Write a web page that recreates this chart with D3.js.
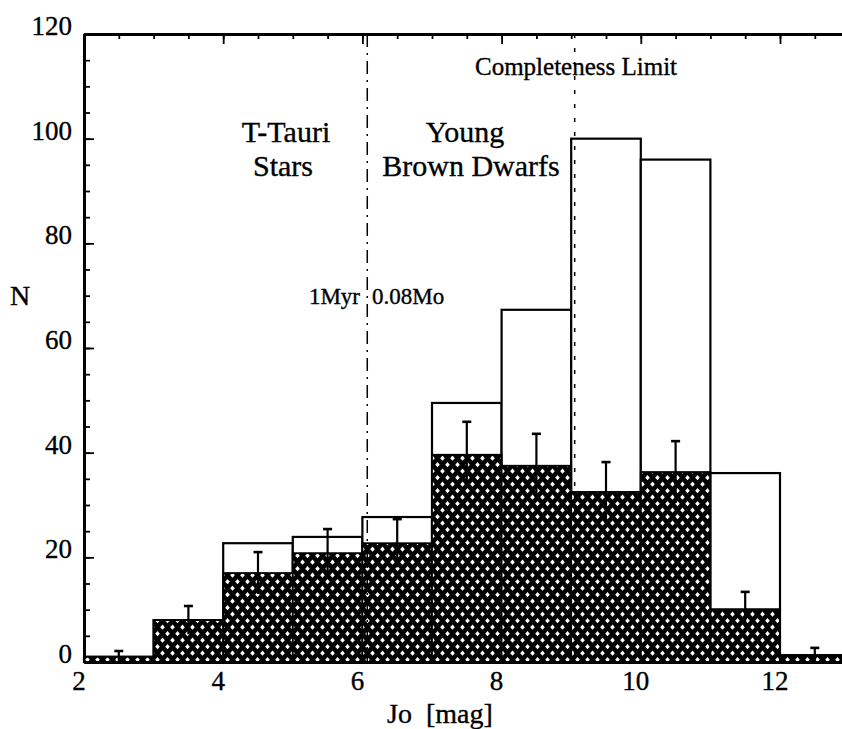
<!DOCTYPE html>
<html>
<head>
<meta charset="utf-8">
<script src="https://cdnjs.cloudflare.com/ajax/libs/d3/7.8.5/d3.min.js"></script>
<style>
  body { margin: 0; background: #fff; }
  svg { display: block; }
  text { white-space: pre; font-family: "Liberation Serif", "Times New Roman", serif; fill: #000; stroke: #000; stroke-width: 0.35px; }
</style>
</head>
<body>
<svg id="chart" width="842" height="729"></svg>
<script>
// left edge of every 1 mag bin
const binStart = [2, 3, 4, 5, 6, 7, 8, 9, 10, 11, 12];
// all sources per bin (open bars)
const totalCounts = [1, 8, 22.7, 23.9, 27.7, 49.5, 67.3, 100, 96, 36.1, 1.3];
// corrected counts (hatched bars)
const hatchedCounts = [1, 8, 17, 20.8, 22.7, 39.6, 37.5, 32.5, 36.3, 10.1, 1.3];
// half length of the error bars
const errors = [1.1, 2.7, 4, 4.6, 4.6, 6.3, 6.1, 5.7, 5.9, 3.3, 1.4];
const xTickLabels = [2, 4, 6, 8, 10, 12];
const yTickLabels = [0, 20, 40, 60, 80, 100, 120];
// vertical marker lines
const massLimit = 6.07;      // 1Myr 0.08Mo
const completeness = 9.05;

const svg = d3.select("#chart");

const x = d3.scaleLinear().domain([2, 13]).range([84, 849.6]);
const y = d3.scaleLinear().domain([0, 120]).range([662, 34]);

// cross hatch: black with small white diamonds
const pat = svg.append("defs").append("pattern")
  .attr("id", "hatch")
  .attr("patternUnits", "userSpaceOnUse")
  .attr("width", 10)
  .attr("height", 13);
pat.append("rect").attr("width", 10).attr("height", 13).attr("fill", "#000");
[[2.5, 3.2], [7.5, 9.7]].forEach(c => {
  pat.append("path")
    .attr("d", `M${c[0]-2.3},${c[1]} L${c[0]},${c[1]-2.6} L${c[0]+2.3},${c[1]} L${c[0]},${c[1]+2.6} Z`)
    .attr("fill", "#fff");
});

// axis ticks (inward)
const xMinor = d3.range(2, 13.01, 0.5);
const yMinor = d3.range(0, 120.1, 5);

function styleAxis(g) {
  g.selectAll("text").remove();
  g.select(".domain").attr("stroke-width", 2.8);
  g.selectAll(".tick line").attr("stroke-width", 1.8);
}

svg.append("g").attr("transform", "translate(0,34)")
  .call(d3.axisTop(x).tickValues(xMinor).tickSize(-5).tickSizeOuter(0)).call(styleAxis);
svg.append("g").attr("transform", "translate(0,34)")
  .call(d3.axisTop(x).tickValues(xTickLabels).tickSize(-10).tickSizeOuter(0)).call(styleAxis);
svg.append("g").attr("transform", "translate(0,662)")
  .call(d3.axisBottom(x).tickValues(xMinor).tickSize(-5).tickSizeOuter(0)).call(styleAxis);
svg.append("g").attr("transform", "translate(84,0)")
  .call(d3.axisLeft(y).tickValues(yMinor).tickSize(-6).tickSizeOuter(0)).call(styleAxis);
svg.append("g").attr("transform", "translate(84,0)")
  .call(d3.axisLeft(y).tickValues(yTickLabels).tickSize(-10).tickSizeOuter(0)).call(styleAxis);

// open bars
svg.append("g").selectAll("rect")
  .data(binStart)
  .join("rect")
  .attr("x", d => x(d))
  .attr("width", d => x(d + 1) - x(d))
  .attr("y", (d, i) => y(totalCounts[i]))
  .attr("height", (d, i) => y(0) - y(totalCounts[i]))
  .attr("fill", "#fff")
  .attr("stroke", "#000")
  .attr("stroke-width", 2.2);

// hatched bars
svg.append("g").selectAll("rect")
  .data(binStart)
  .join("rect")
  .attr("x", d => x(d))
  .attr("width", d => x(d + 1) - x(d))
  .attr("y", (d, i) => y(hatchedCounts[i]))
  .attr("height", (d, i) => y(0) - y(hatchedCounts[i]))
  .attr("fill", "url(#hatch)")
  .attr("stroke", "#000")
  .attr("stroke-width", 1.8);

// error bars
const err = svg.append("g").selectAll("g")
  .data(binStart)
  .join("g");
err.append("line")
  .attr("x1", d => x(d + 0.5))
  .attr("x2", d => x(d + 0.5))
  .attr("y1", (d, i) => y(Math.max(0, hatchedCounts[i] - errors[i])))
  .attr("y2", (d, i) => y(hatchedCounts[i] + errors[i]))
  .attr("stroke", "#000")
  .attr("stroke-width", 2.2);
err.append("line")
  .attr("x1", d => x(d + 0.5) - 4.5)
  .attr("x2", d => x(d + 0.5) + 4.5)
  .attr("y1", (d, i) => y(hatchedCounts[i] + errors[i]))
  .attr("y2", (d, i) => y(hatchedCounts[i] + errors[i]))
  .attr("stroke", "#000")
  .attr("stroke-width", 2.6);

// marker lines
svg.append("line")
  .attr("x1", x(massLimit)).attr("x2", x(massLimit))
  .attr("y1", y(120)).attr("y2", y(0))
  .attr("stroke", "#000")
  .attr("stroke-width", 1.5)
  .attr("stroke-dasharray", "13,6,2,6");
svg.append("line")
  .attr("x1", x(completeness)).attr("x2", x(completeness))
  .attr("y1", y(120)).attr("y2", y(0))
  .attr("stroke", "#000")
  .attr("stroke-width", 1.5)
  .attr("stroke-dasharray", "4,10");

// tick labels
svg.append("g").selectAll("text")
  .data(xTickLabels)
  .join("text")
  .attr("x", d => x(d) - 5)
  .attr("y", 690)
  .attr("text-anchor", "middle")
  .style("font-size", "27px")
  .text(d => d);
svg.append("g").selectAll("text")
  .data(yTickLabels)
  .join("text")
  .attr("x", 72)
  .attr("y", d => y(d) + 1)
  .attr("text-anchor", "end")
  .style("font-size", "27px")
  .text(d => d);

// annotations
const notes = [
  { t: "Completeness Limit", x: 475, y: 75, s: 25, a: "start" },
  { t: "T-Tauri", x: 286, y: 142, s: 30, a: "middle" },
  { t: "Stars", x: 283, y: 176, s: 30, a: "middle" },
  { t: "Young", x: 465, y: 142, s: 30, a: "middle" },
  { t: "Brown Dwarfs", x: 471, y: 176, s: 30, a: "middle" },
  { t: "1Myr", x: 360, y: 304, s: 23, a: "end" },
  { t: "0.08Mo", x: 372, y: 304, s: 23, a: "start" },
  { t: "N", x: 10, y: 305, s: 28, a: "start" },
  { t: "Jo  [mag]", x: 440, y: 723, s: 28, a: "middle" }
];
svg.append("g").selectAll("text")
  .data(notes)
  .join("text")
  .attr("x", d => d.x)
  .attr("y", d => d.y)
  .attr("text-anchor", d => d.a)
  .style("font-size", d => d.s + "px")
  .text(d => d.t);
</script>
</body>
</html>
